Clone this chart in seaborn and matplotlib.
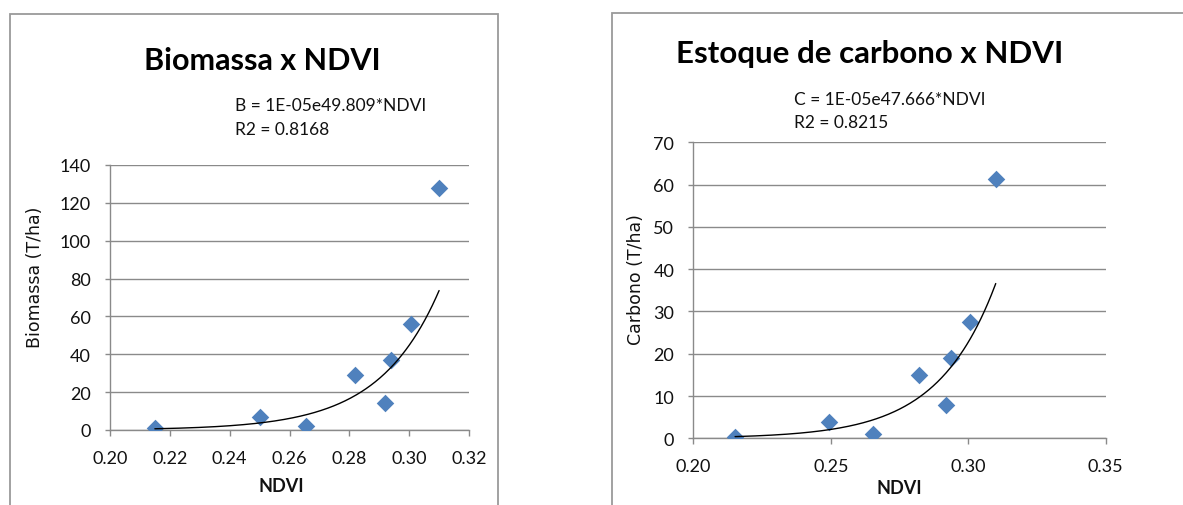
import numpy as np
import pandas as pd
import matplotlib
matplotlib.use("Agg")
import matplotlib.pyplot as plt
from matplotlib.patches import Rectangle
import seaborn as sns

# ---- data ----
ndvi_b = [0.215, 0.250, 0.2655, 0.282, 0.292, 0.2938, 0.3005, 0.310]
biomassa = [1.0, 6.7, 2.0, 29.0, 14.1, 37.0, 56.0, 128.0]
ndvi_c = [0.2152, 0.2492, 0.2652, 0.2821, 0.292, 0.2937, 0.3006, 0.310]
carbono = [0.4, 3.9, 0.95, 15.0, 7.9, 18.9, 27.6, 61.3]

# exponential trendline coefficients (y = a * exp(b * NDVI))
a_b, b_b = 1.45e-5, 49.809
a_c, b_c = 1.40e-5, 47.666

title_b = "Biomassa x NDVI"
title_c = "Estoque de carbono x NDVI"
eq_b = ["B = 1E-05e49.809*NDVI", "R2 = 0.8168"]
eq_c = ["C = 1E-05e47.666*NDVI", "R2 = 0.8215"]
xticks_b = [0.20, 0.22, 0.24, 0.26, 0.28, 0.30, 0.32]
yticks_b = [0, 20, 40, 60, 80, 100, 120, 140]
xticks_c = [0.20, 0.25, 0.30, 0.35]
yticks_c = [0, 10, 20, 30, 40, 50, 60, 70]

sns.set_theme(style="white")
plt.rcParams['font.family'] = ['Lato', 'DejaVu Sans']

W, H = 1183, 506
fig = plt.figure(figsize=(W / 100, H / 100), dpi=100)
fig.patch.set_facecolor("white")

GRID = "#8a8a8a"
BLUE = "#4F81BD"
TXT = "#111111"


def fx(px):
    return px / W


def fy(py):
    return 1 - py / H


# panel borders
fig.patches.append(Rectangle((fx(10), fy(520)), fx(498) - fx(10), fy(15) - fy(520),
                             transform=fig.transFigure, fill=False,
                             edgecolor="#9a9a9a", lw=1.3, zorder=0))
fig.patches.append(Rectangle((fx(612), fy(520)), fx(1200) - fx(612), fy(14) - fy(520),
                             transform=fig.transFigure, fill=False,
                             edgecolor="#9a9a9a", lw=1.3, zorder=0))


def make_panel(rect, xs, ys, a, b, xticks, yticks, ylabel, ylab_pos, xlab_pos):
    ax = fig.add_axes(rect)
    df = pd.DataFrame({"x": xs, "y": ys})
    xx = np.linspace(min(xs), max(xs), 300)
    tr = pd.DataFrame({"x": xx, "y": a * np.exp(b * xx)})
    sns.lineplot(data=tr, x="x", y="y", ax=ax, color="black", lw=1.0, zorder=4)
    sns.scatterplot(data=df, x="x", y="y", ax=ax, marker="D", s=80,
                    color=BLUE, edgecolor=BLUE, linewidth=0, zorder=3)
    ax.set_xlim(xticks[0], xticks[-1])
    ax.set_ylim(yticks[0], yticks[-1])
    ax.set_xticks(xticks)
    ax.set_yticks(yticks)
    ax.set_xticklabels([f"{v:.2f}" for v in xticks])
    ax.set_yticklabels([str(v) for v in yticks])
    ax.yaxis.grid(True, color=GRID, lw=1.0)
    ax.xaxis.grid(False)
    for s in ["top", "right"]:
        ax.spines[s].set_visible(False)
    for s in ["left", "bottom"]:
        ax.spines[s].set_color(GRID)
        ax.spines[s].set_linewidth(1.0)
    ax.tick_params(axis="x", direction="out", length=4.5, width=1.0, color=GRID,
                   pad=10, labelsize=13, labelcolor=TXT, bottom=True)
    ax.tick_params(axis="y", direction="out", length=3.8, width=1.0, color=GRID,
                   pad=10, labelsize=13, labelcolor=TXT, left=True)
    ax.set_ylabel(ylabel, fontsize=12.5, color=TXT, family=["DejaVu Sans"])
    ax.yaxis.set_label_coords(*ylab_pos)
    ax.set_xlabel("NDVI", fontsize=13, fontweight="bold", color=TXT)
    ax.xaxis.set_label_coords(*xlab_pos)
    ax.set_axisbelow(True)
    return ax


ax1 = make_panel([fx(110), fy(431), fx(469) - fx(110), fy(166) - fy(431)],
                 ndvi_b, biomassa, a_b, b_b, xticks_b, yticks_b,
                 "Biomassa (T/ha)", (-0.183, 0.579), (0.476, -0.177))
ax2 = make_panel([fx(693.3), fy(439.3), fx(1105.7) - fx(693.3), fy(143.3) - fy(439.3)],
                 ndvi_c, carbono, a_c, b_c, xticks_c, yticks_c,
                 "Carbono (T/ha)", (-0.117, 0.538), (0.499, -0.138))

# titles
fig.text(fx(262.5), fy(70.5), title_b, ha="center", va="baseline",
         fontsize=22, fontweight="bold", color="black")
fig.text(fx(870), fy(63.5), title_c, ha="center", va="baseline",
         fontsize=22.5, fontweight="bold", color="black")

# equations
fig.text(fx(235), fy(111.5), eq_b[0], ha="left", va="baseline", fontsize=12.5, color=TXT)
fig.text(fx(235), fy(135), eq_b[1], ha="left", va="baseline", fontsize=12.5, color=TXT)
fig.text(fx(794), fy(105), eq_c[0], ha="left", va="baseline", fontsize=12.5, color=TXT)
fig.text(fx(794), fy(128.5), eq_c[1], ha="left", va="baseline", fontsize=12.5, color=TXT)

fig.savefig("out.png", dpi=100, facecolor="white")
